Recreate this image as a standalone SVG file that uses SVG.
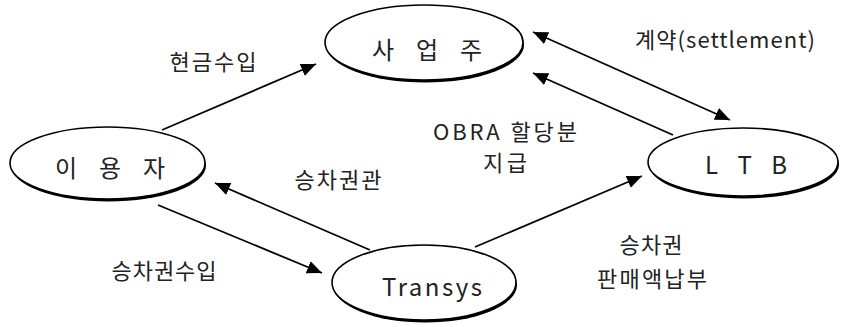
<svg xmlns="http://www.w3.org/2000/svg" width="841" height="327" viewBox="0 0 841 327">
<style>
.shadow{fill:#000;stroke:none}
.node{fill:#fff;stroke:#000;stroke-width:1.6}
.lbl{font-family:"Noto Sans CJK KR","Noto Sans",sans-serif;font-size:22px;fill:#222;text-anchor:middle;dominant-baseline:central}
.nl{font-family:"Noto Sans CJK KR","Noto Sans",sans-serif;font-size:24px;fill:#222;text-anchor:middle;dominant-baseline:central}
.conn line{stroke:#000;stroke-width:1.8;fill:none}
</style>
<defs>
<marker id="ah" markerUnits="userSpaceOnUse" markerWidth="16" markerHeight="14" refX="15" refY="6.5" orient="auto-start-reverse" viewBox="0 0 16 13">
<path d="M0,0 L15,6.5 L0,13 z" fill="#000"/>
</marker>
</defs>
<rect width="841" height="327" fill="#fff"/>
<g class="conn">
<line x1="162" y1="130" x2="316" y2="64" marker-end="url(#ah)"/>
<line x1="533" y1="32" x2="730" y2="120" marker-start="url(#ah)" marker-end="url(#ah)"/>
<line x1="673" y1="135" x2="533" y2="73" marker-end="url(#ah)"/>
<line x1="370" y1="250" x2="215" y2="183" marker-end="url(#ah)"/>
<line x1="158" y1="205" x2="322" y2="273" marker-end="url(#ah)"/>
<line x1="475" y1="247" x2="642" y2="176" marker-end="url(#ah)"/>
</g>
<g id="sa">
<ellipse class="shadow" cx="425" cy="45" rx="99" ry="37.5"/>
<ellipse class="node" cx="424" cy="42.5" rx="99" ry="37.5"/>
<text class="nl" x="427" y="48.5" textLength="110" lengthAdjust="spacing">사 업 주</text>
</g>
<g id="user">
<ellipse class="shadow" cx="108.5" cy="165.5" rx="97.5" ry="36"/>
<ellipse class="node" cx="107.5" cy="163" rx="97.5" ry="36"/>
<text class="nl" x="110" y="166" textLength="110" lengthAdjust="spacing">이 용 자</text>
</g>
<g id="transys">
<ellipse class="shadow" cx="425" cy="285" rx="92" ry="37.5"/>
<ellipse class="node" cx="424" cy="282.5" rx="92" ry="37.5"/>
<text class="nl" x="432" y="285" textLength="100" lengthAdjust="spacing">Transys</text>
</g>
<g id="ltb">
<ellipse class="shadow" cx="744" cy="164.5" rx="95" ry="34"/>
<ellipse class="node" cx="743" cy="162" rx="95" ry="34"/>
<text class="nl" x="746" y="163" textLength="82" lengthAdjust="spacing">L T B</text>
</g>
<g id="labels">
<text class="lbl" x="213" y="60" textLength="87" lengthAdjust="spacing">현금수입</text>
<text class="lbl" x="725" y="38" textLength="180" lengthAdjust="spacing">계약(settlement)</text>
<text class="lbl" x="505" y="130" textLength="144" lengthAdjust="spacing">OBRA 할당분</text>
<text class="lbl" x="505" y="161" textLength="44" lengthAdjust="spacing">지급</text>
<text class="lbl" x="338" y="178" textLength="87" lengthAdjust="spacing">승차권관</text>
<text class="lbl" x="164" y="269" textLength="105" lengthAdjust="spacing">승차권수입</text>
<text class="lbl" x="651" y="243" textLength="63" lengthAdjust="spacing">승차권</text>
<text class="lbl" x="652" y="277" textLength="110" lengthAdjust="spacing">판매액납부</text>
</g>
</svg>
